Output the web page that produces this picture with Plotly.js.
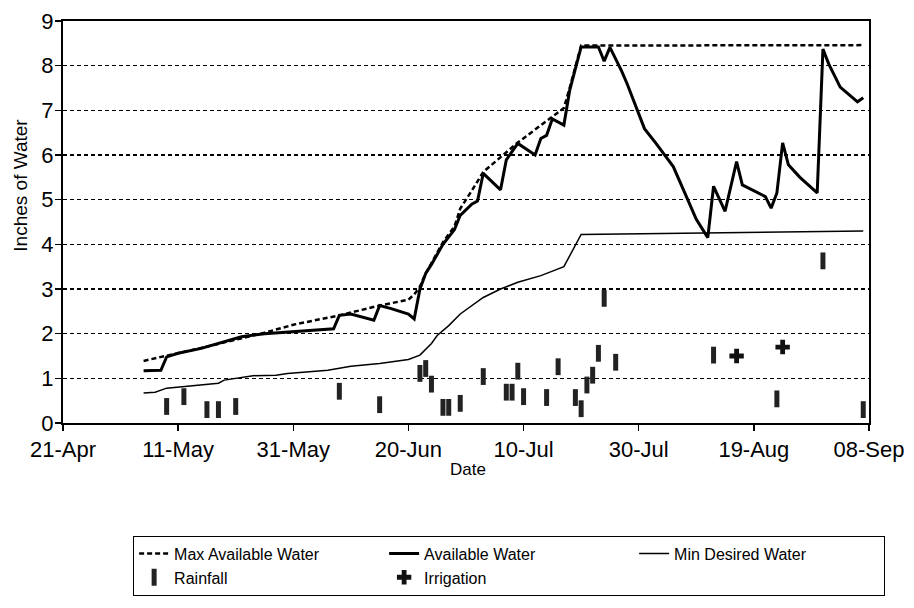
<!DOCTYPE html>
<html>
<head>
<meta charset="utf-8">
<script src="https://cdn.plot.ly/plotly-3.0.1.min.js"></script>
<style>
  html, body { margin: 0; padding: 0; background: #fff; }
  #chart { width: 914px; height: 608px; }
</style>
</head>
<body>
<div id="chart"></div>
<script>
// Soil water balance over the season (inches of water)
const maxDates = ['1997-05-05', '1997-05-09', '1997-05-15', '1997-05-26', '1997-05-31', '1997-06-08',
  '1997-06-15', '1997-06-20', '1997-06-21', '1997-06-22', '1997-06-23', '1997-06-24', '1997-06-26',
  '1997-06-28', '1997-06-29', '1997-07-01', '1997-07-03', '1997-07-09', '1997-07-15', '1997-07-17',
  '1997-07-18', '1997-07-20', '1997-09-07'];
const maxWater = [1.39, 1.50, 1.68, 2.02, 2.20, 2.41,
  2.63, 2.76, 2.88, 3.05, 3.35, 3.58, 4.05,
  4.40, 4.80, 5.20, 5.62, 6.28, 6.85, 7.05,
  7.50, 8.45, 8.46];

const availDates = ['1997-05-05', '1997-05-08', '1997-05-09', '1997-05-11', '1997-05-15', '1997-05-18',
  '1997-05-22', '1997-05-26', '1997-05-31', '1997-06-07', '1997-06-08', '1997-06-10', '1997-06-14',
  '1997-06-15', '1997-06-17', '1997-06-20', '1997-06-21', '1997-06-22', '1997-06-23', '1997-06-24',
  '1997-06-26', '1997-06-28', '1997-06-29', '1997-07-01', '1997-07-02', '1997-07-03', '1997-07-06',
  '1997-07-07', '1997-07-09', '1997-07-12', '1997-07-13', '1997-07-14', '1997-07-15', '1997-07-17',
  '1997-07-18', '1997-07-19', '1997-07-20', '1997-07-23', '1997-07-24', '1997-07-25', '1997-07-27',
  '1997-07-28', '1997-07-31', '1997-08-02', '1997-08-05', '1997-08-07', '1997-08-09', '1997-08-11',
  '1997-08-12', '1997-08-14', '1997-08-16', '1997-08-17', '1997-08-21', '1997-08-22', '1997-08-23',
  '1997-08-24', '1997-08-25', '1997-08-27', '1997-08-30', '1997-08-31', '1997-09-01', '1997-09-03',
  '1997-09-06', '1997-09-07'];
const availWater = [1.17, 1.18, 1.48, 1.56, 1.67, 1.78,
  1.93, 2.00, 2.05, 2.11, 2.41, 2.44, 2.30,
  2.63, 2.56, 2.44, 2.33, 3.00, 3.35, 3.55,
  4.00, 4.33, 4.65, 4.90, 4.97, 5.59, 5.22,
  5.89, 6.26, 6.00, 6.37, 6.44, 6.81, 6.67,
  7.44, 7.95, 8.42, 8.42, 8.10, 8.41, 7.89,
  7.59, 6.59, 6.26, 5.74, 5.15, 4.56, 4.15,
  5.30, 4.74, 5.85, 5.33, 5.07, 4.81, 5.15,
  6.27, 5.78, 5.50, 5.15, 8.37, 8.04, 7.52,
  7.19, 7.28];

const minDates = ['1997-05-05', '1997-05-07', '1997-05-09', '1997-05-14', '1997-05-18', '1997-05-19',
  '1997-05-24', '1997-05-28', '1997-05-30', '1997-06-06', '1997-06-10', '1997-06-15', '1997-06-20',
  '1997-06-22', '1997-06-24', '1997-06-25', '1997-06-27', '1997-06-29', '1997-07-03', '1997-07-06',
  '1997-07-09', '1997-07-13', '1997-07-17', '1997-07-20', '1997-08-10', '1997-09-07'];
const minWater = [0.67, 0.69, 0.78, 0.84, 0.89, 0.96,
  1.06, 1.07, 1.11, 1.18, 1.27, 1.33, 1.42,
  1.52, 1.78, 1.96, 2.18, 2.44, 2.81, 3.00,
  3.15, 3.30, 3.50, 4.22, 4.25, 4.30];

const rainDates = ['1997-05-09', '1997-05-12', '1997-05-16', '1997-05-18', '1997-05-21', '1997-06-08',
  '1997-06-15', '1997-06-22', '1997-06-23', '1997-06-24', '1997-06-26', '1997-06-27', '1997-06-29',
  '1997-07-03', '1997-07-07', '1997-07-08', '1997-07-09', '1997-07-10', '1997-07-14', '1997-07-16',
  '1997-07-19', '1997-07-20', '1997-07-21', '1997-07-22', '1997-07-23', '1997-07-24', '1997-07-26',
  '1997-08-12', '1997-08-23', '1997-08-31', '1997-09-07'];
const rainfall = [0.37, 0.59, 0.30, 0.30, 0.37, 0.71,
  0.41, 1.11, 1.22, 0.87, 0.35, 0.35, 0.44,
  1.04, 0.69, 0.69, 1.16, 0.59, 0.57, 1.26,
  0.57, 0.32, 0.85, 1.07, 1.56, 2.79, 1.36,
  1.52, 0.54, 3.63, 0.30];

const irrigDates = ['1997-08-16', '1997-08-24'];
const irrigation = [1.50, 1.70];

const tickFont = { family: 'Liberation Sans, Arial, sans-serif', size: 22, color: '#000' };

const traces = [
  {
    x: maxDates, y: maxWater, name: 'Max Available Water',
    type: 'scatter', mode: 'lines',
    line: { color: '#000', width: 2.5, dash: '5px,3px' }
  },
  {
    x: availDates, y: availWater, name: 'Available Water',
    type: 'scatter', mode: 'lines',
    line: { color: '#000', width: 3 }
  },
  {
    x: minDates, y: minWater, name: 'Min Desired Water',
    type: 'scatter', mode: 'lines',
    line: { color: '#000', width: 1.5 }
  },
  {
    x: rainDates, y: rainfall, name: 'Rainfall',
    type: 'scatter', mode: 'markers',
    marker: { symbol: 'line-ns', size: 12, line: { color: '#222', width: 5 } }
  },
  {
    x: irrigDates, y: irrigation, name: 'Irrigation',
    type: 'scatter', mode: 'markers',
    marker: { symbol: 'cross', size: 12, color: '#111' }
  }
];

const layout = {
  width: 914,
  height: 608,
  margin: { l: 63, r: 45, t: 21, b: 183 },
  paper_bgcolor: '#fff',
  plot_bgcolor: '#fff',
  font: { family: 'Liberation Sans, Arial, sans-serif', color: '#000' },
  showlegend: true,
  legend: {
    orientation: 'h',
    x: 0.087, xanchor: 'left',
    y: -0.28, yanchor: 'top',
    entrywidth: 205,
    bordercolor: '#000', borderwidth: 1,
    font: { size: 16, color: '#000' },
    traceorder: 'normal'
  },
  xaxis: {
    type: 'date',
    range: ['1997-04-21', '1997-09-08'],
    tick0: '1997-04-21',
    dtick: 20 * 86400000,
    tickformat: '%d-%b',
    tickfont: tickFont,
    ticks: 'outside', ticklen: 6, tickwidth: 1.5, tickcolor: '#000',
    showline: true, linecolor: '#000', linewidth: 2, mirror: true,
    showgrid: false, zeroline: false,
    automargin: false
  },
  yaxis: {
    range: [0, 9],
    dtick: 1,
    tickfont: tickFont,
    ticks: 'outside', ticklen: 6, tickwidth: 1.5, tickcolor: '#000',
    ticklabelstandoff: -3,
    showline: true, linecolor: '#000', linewidth: 2, mirror: true,
    showgrid: true, gridcolor: '#000', gridwidth: 1.5, griddash: '4px,3px',
    zeroline: false,
    automargin: false
  },
  annotations: [
    {
      text: 'Date', xref: 'paper', yref: 'paper',
      x: 0.502, y: -0.115, xanchor: 'center', yanchor: 'middle',
      showarrow: false, font: { size: 17, color: '#000' }
    },
    {
      text: 'Inches of Water', xref: 'paper', yref: 'paper', textangle: -90,
      x: -0.053, y: 0.591, xanchor: 'center', yanchor: 'middle',
      showarrow: false, font: { size: 19, color: '#000' }
    }
  ]
};

Plotly.newPlot('chart', traces, layout, { displayModeBar: false, staticPlot: true });
</script>
</body>
</html>
